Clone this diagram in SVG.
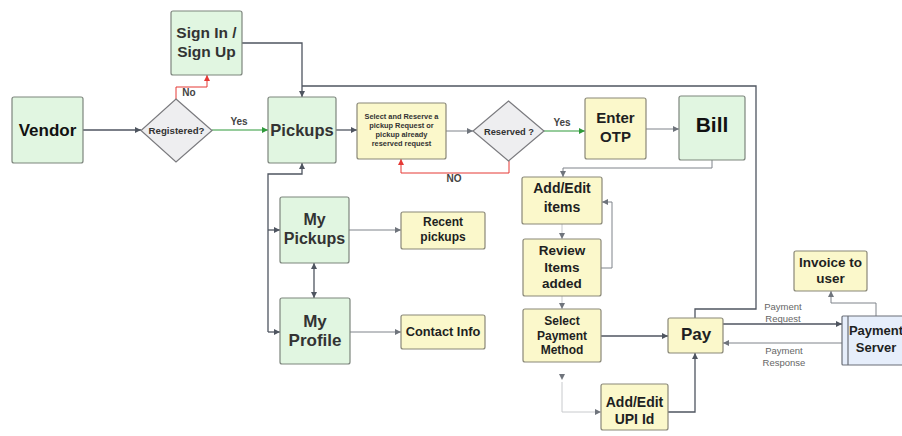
<svg xmlns="http://www.w3.org/2000/svg" width="902" height="436" viewBox="0 0 902 436">
<defs>
<marker id="a" markerWidth="6" markerHeight="6" refX="6" refY="3" orient="auto" markerUnits="userSpaceOnUse"><path d="M0,0 L6,3 L0,6 z" fill="#4f5560"/></marker>
<marker id="as" markerWidth="6" markerHeight="6" refX="6" refY="3" orient="auto-start-reverse" markerUnits="userSpaceOnUse"><path d="M0,0 L6,3 L0,6 z" fill="#4f5560"/></marker>
<marker id="ar" markerWidth="6" markerHeight="6" refX="6" refY="3" orient="auto" markerUnits="userSpaceOnUse"><path d="M0,0 L6,3 L0,6 z" fill="#e53935"/></marker>
<marker id="ag" markerWidth="6" markerHeight="6" refX="6" refY="3" orient="auto" markerUnits="userSpaceOnUse"><path d="M0,0 L6,3 L0,6 z" fill="#2e9a3a"/></marker>
<marker id="al" markerWidth="6" markerHeight="6" refX="6" refY="3" orient="auto" markerUnits="userSpaceOnUse"><path d="M0,0 L6,3 L0,6 z" fill="#6f747c"/></marker>
</defs>
<style>
.g{fill:#e1f6e1;stroke:#7d857d;stroke-width:1.2}
.y{fill:#fbf8cb;stroke:#8a8878;stroke-width:1.2}
.d{fill:#eeeef0;stroke:#7a7a7e;stroke-width:1.2}
.b{fill:#e6eefb;stroke:#6a6f78;stroke-width:1.2}
text{font-family:"Liberation Sans",Arial,sans-serif;font-weight:bold;text-anchor:middle;fill:#1e1f22}
.c path{fill:none;stroke:#4f5560;stroke-width:1.3}
.c path.l{stroke:#7e838a;stroke-width:1}
.c path.f{stroke:#c8cacd;stroke-width:1}
.c path.n{stroke:none}
.c path.r{stroke:#e53935;stroke-width:1}
.c path.gr{stroke:#2e9a3a;stroke-width:1.2}
.lab{font-size:10px;fill:#444}
.pl{font-size:9.5px;font-weight:normal;fill:#666}
</style>
<g class="c" id="connectors">
<path d="M83,130 H141" marker-end="url(#a)"/>
<path class="r" d="M176,99 V87 H207 V75" marker-end="url(#ar)"/>
<path class="gr" d="M212,130 H268" marker-end="url(#ag)"/>
<path d="M242,43 H302 V97" marker-end="url(#a)"/>
<path d="M695,318 V309 H756 V86 H302"/>
<path d="M336,130 H357" marker-end="url(#a)"/>
<path d="M268,332 V174 H302 V163" marker-end="url(#a)"/>
<path d="M268,230 H280" marker-end="url(#a)"/>
<path d="M268,332 H280" marker-end="url(#a)"/>
<path d="M314,263 V298" marker-start="url(#as)" marker-end="url(#a)"/>
<path class="l" d="M349,230 H401" marker-end="url(#al)"/>
<path class="l" d="M350,332 H401" marker-end="url(#al)"/>
<path class="l" d="M446,131 H473" marker-end="url(#al)"/>
<path class="r" d="M509,161 V173 H401 V159" marker-end="url(#ar)"/>
<path class="gr" d="M544,131 H585" marker-end="url(#ag)"/>
<path class="l" d="M646,129 H679" marker-end="url(#al)"/>
<path class="l" d="M712,160 V168 H563 V177" marker-end="url(#al)"/>
<path class="f" d="M562,224 V239" marker-end="url(#al)"/>
<path class="f" d="M562,296 V309" marker-end="url(#al)"/>
<path class="l" d="M601,268 H612 V202 H602" marker-end="url(#al)"/>
<path class="n" d="M562,370 V380" marker-end="url(#al)"/>
<path class="f" d="M562,382 V412 H601" marker-end="url(#al)"/>
<path d="M601,336 H668" marker-end="url(#a)"/>
<path d="M668,412 H695 V353" marker-end="url(#a)"/>
<path d="M723,324 H842" marker-end="url(#a)"/>
<path class="l" d="M842,343 H723" marker-end="url(#al)"/>
<path class="l" d="M876,316 V303 H831 V291" marker-end="url(#al)"/>
</g>
<text class="lab" x="189" y="96">No</text>
<text class="lab" x="239" y="125">Yes</text>
<text class="lab" x="454" y="182">NO</text>
<text class="lab" x="562" y="126">Yes</text>
<text class="pl" x="783" y="310">Payment</text>
<text class="pl" x="783" y="322">Request</text>
<text class="pl" x="784" y="354">Payment</text>
<text class="pl" x="784" y="366">Response</text>
<g id="vendor"><rect class="g" x="12" y="97" width="71" height="66" rx="2"/><text x="47.5" y="136" style="font-size:17px;fill:#111">Vendor</text></g>
<g id="signin"><rect class="g" x="171" y="11" width="71" height="64" rx="2"/><text x="206.5" y="38" style="font-size:15.5px;fill:#333">Sign In /</text><text x="206.5" y="57" style="font-size:15.5px;fill:#333">Sign Up</text></g>
<g id="registered"><polygon class="d" points="176,99 212,130.5 176,162 141,130.5"/><text x="176.5" y="134" style="font-size:9.7px;fill:#333">Registered?</text></g>
<g id="pickups"><rect class="g" x="268" y="97" width="68" height="66" rx="2"/><text x="302" y="136" style="font-size:16.5px;fill:#333">Pickups</text></g>
<g id="mypickups"><rect class="g" x="280" y="197" width="69" height="66" rx="2"/><text x="314.5" y="225" style="font-size:16px;fill:#333">My</text><text x="314.5" y="244" style="font-size:16px;fill:#333">Pickups</text></g>
<g id="myprofile"><rect class="g" x="280" y="298" width="70" height="66" rx="2"/><text x="315" y="327" style="font-size:17px;fill:#333">My</text><text x="315" y="346" style="font-size:17px;fill:#333">Profile</text></g>
<g id="recent"><rect class="y" x="401" y="212" width="84" height="37" rx="2"/><text x="443" y="226" style="font-size:12px">Recent</text><text x="443" y="241" style="font-size:12px">pickups</text></g>
<g id="contact"><rect class="y" x="401" y="315" width="84" height="34" rx="2"/><text x="443" y="336" style="font-size:12.8px">Contact Info</text></g>
<g id="select"><rect class="y" x="357" y="103" width="89" height="56" rx="2"/><text x="401.5" y="119" style="font-size:7.4px;fill:#333">Select and Reserve a</text><text x="401.5" y="128" style="font-size:7.4px;fill:#333">pickup Request or</text><text x="401.5" y="137" style="font-size:7.4px;fill:#333">pickup already</text><text x="401.5" y="146" style="font-size:7.4px;fill:#333">reserved request</text></g>
<g id="reserved"><polygon class="d" points="508.5,101 544,131 508.5,161 473,131"/><text x="509" y="134.5" style="font-size:9.3px;fill:#333">Reserved ?</text></g>
<g id="otp"><rect class="y" x="585" y="98" width="61" height="61" rx="2"/><text x="615.5" y="123" style="font-size:15px">Enter</text><text x="615.5" y="142" style="font-size:15px">OTP</text></g>
<g id="bill"><rect class="g" x="679" y="96" width="66" height="64" rx="2"/><text x="712" y="131.5" style="font-size:21px;fill:#111">Bill</text></g>
<g id="additems"><rect class="y" x="522" y="177" width="80" height="47" rx="2"/><text x="562" y="193" style="font-size:14px">Add/Edit</text><text x="562" y="212" style="font-size:14px">items</text></g>
<g id="review"><rect class="y" x="523" y="239" width="78" height="57" rx="2"/><text x="562" y="255" style="font-size:13.5px">Review</text><text x="562" y="272" style="font-size:13.5px">Items</text><text x="562" y="288" style="font-size:13.5px">added</text></g>
<g id="paymethod"><rect class="y" x="523" y="309" width="78" height="53" rx="2"/><text x="562" y="325" style="font-size:12px">Select</text><text x="562" y="340" style="font-size:12px">Payment</text><text x="562" y="354" style="font-size:12px">Method</text></g>
<g id="upi"><rect class="y" x="601" y="384" width="67" height="46" rx="2"/><text x="634.5" y="407" style="font-size:14px">Add/Edit</text><text x="634.5" y="424" style="font-size:14px">UPI Id</text></g>
<g id="pay"><rect class="y" x="668" y="318" width="55" height="35" rx="2"/><text x="696" y="340" style="font-size:17px">Pay</text></g>
<g id="server"><rect class="b" x="842" y="316" width="64" height="49" rx="1"/><line x1="848" y1="316" x2="848" y2="365" stroke="#6a6f78" stroke-width="1.2"/><text x="876" y="334.5" style="font-size:13px">Payment</text><text x="876" y="351.5" style="font-size:13px">Server</text></g>
<g id="invoice"><rect class="y" x="794" y="251" width="73" height="40" rx="2"/><text x="830.5" y="266.5" style="font-size:13.5px">Invoice to</text><text x="830.5" y="283" style="font-size:13.5px">user</text></g>
</svg>
